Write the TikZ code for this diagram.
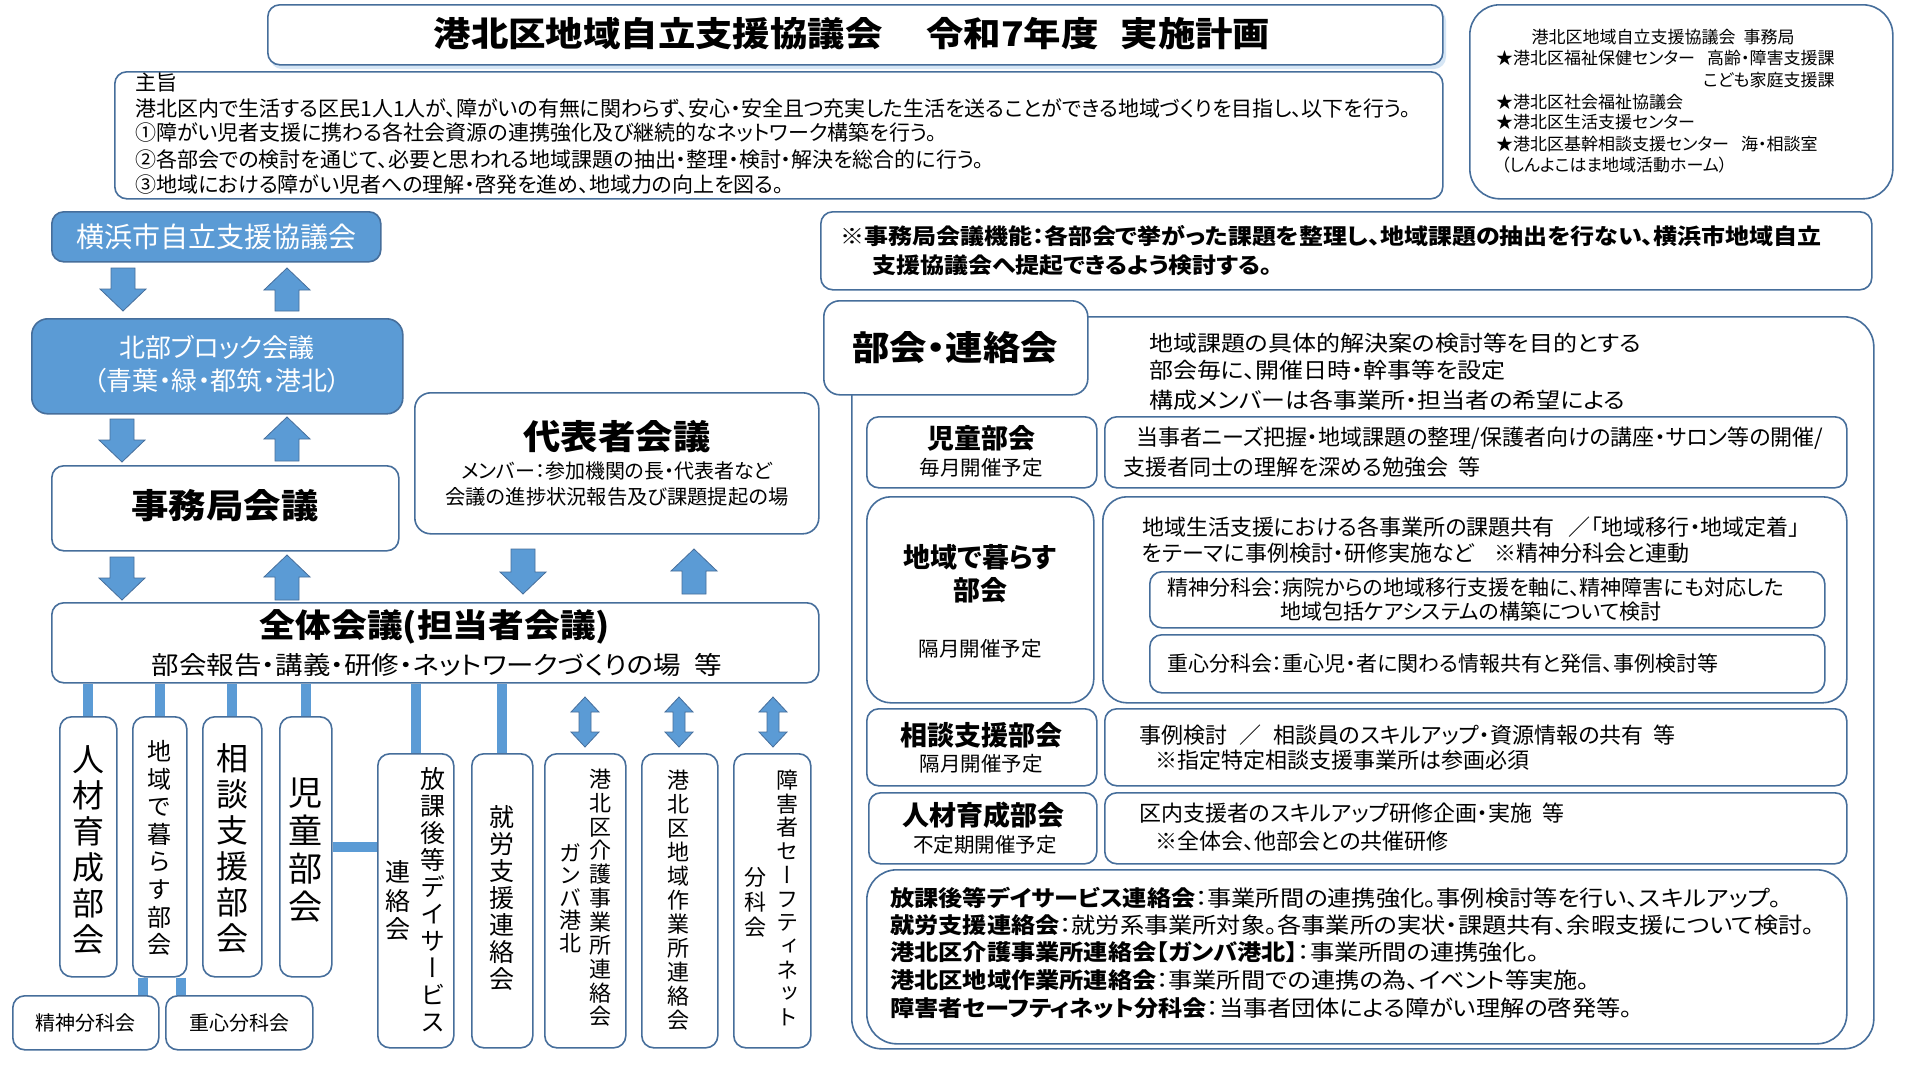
\documentclass[tikz,border=0pt]{standalone}
\usepackage{fontspec}
\setmainfont{Noto Sans CJK JP}[RawFeature=+palt]
\newfontfamily\jpw{Noto Sans CJK JP}[RawFeature=+palt,FakeStretch=1.1]
\newfontfamily\jpv{Noto Sans CJK JP}[RawFeature=+vert]
\definecolor{bord}{RGB}{70,110,155}
\definecolor{bfill}{RGB}{91,155,213}
\newcommand\fs[1]{\fontsize{#1}{#1}\selectfont}
\newcommand\fsl[2]{\fontsize{#1}{#2}\selectfont}
\pgfdeclarelayer{bg}
\pgfsetlayers{bg,main}
\newcommand\bx[6][]{\node[box,#1,anchor=north west,minimum width={#4-#2},minimum height={#5-#3}] (#6) at (#2,#3) {};}
\newcommand\tx[5][]{\node[txt,#1] (#2) at (#3,#4) {#5};}
\newcommand\darr[3]{\path[barrow] (#1-12,#2) -- (#1+12,#2) -- (#1+12,#3-22) -- (#1+23,#3-22) -- (#1,#3) -- (#1-23,#3-22) -- (#1-12,#3-22) -- cycle;}
\newcommand\uarr[3]{\path[barrow] (#1-12,#3) -- (#1+12,#3) -- (#1+12,#2+22) -- (#1+23,#2+22) -- (#1,#2) -- (#1-23,#2+22) -- (#1-12,#2+22) -- cycle;}
\newcommand\udarr[3]{\path[barrow] (#1,#2) -- (#1+14,#2+15) -- (#1+6,#2+15) -- (#1+6,#3-15) -- (#1+14,#3-15) -- (#1,#3) -- (#1-14,#3-15) -- (#1-6,#3-15) -- (#1-6,#2+15) -- (#1-14,#2+15) -- cycle;}
\begin{document}
\begin{tikzpicture}[x=1pt,y=-1pt,
 box/.style={draw=bord,line width=1.6pt,rounded corners=12pt,fill=white,inner sep=0pt},
 bbox/.style={box,fill=bfill},
 conn/.style={draw=bfill,line width=10pt},
 barrow/.style={fill=bfill,draw=bord,line width=0.8pt,line join=miter},
 txt/.style={inner sep=0pt,text=black},
 wtxt/.style={inner sep=0pt,text=white},
 vt/.style={inner sep=0pt,align=center,text=black}]
\useasboundingbox (0,0) rectangle (1920,1080);
\begin{pgfonlayer}{bg}
\fill[white] (0,0) rectangle (1920,1080);
\end{pgfonlayer}

% ---------- top ----------
\fill[bfill!25,rounded corners=12pt] (270,9) rectangle (1446,69);
\bx{267}{4}{1442}{64}{titleB}
\tx[font=\jpw\bfseries\fs{34}]{titleT}{852}{34}{港北区地域自立支援協議会\hspace{44pt}令和7年度\hspace{22pt}実施計画}

\bx[rounded corners=30pt]{1469}{4}{1892}{198}{officeB}
\tx[font=\fs{17}]{of1}{1663}{37}{港北区地域自立支援協議会\hspace{8pt}事務局}
\tx[font=\fs{17},anchor=west]{of2}{1496}{58}{★港北区福祉保健センター\hspace{12pt}高齢・障害支援課}
\node[txt,font=\fs{17},anchor=east] (of3) at (of2.east |- 0,80) {こども家庭支援課};
\tx[font=\fs{17},anchor=west]{of4}{1496}{102}{★港北区社会福祉協議会}
\tx[font=\fs{17},anchor=west]{of5}{1496}{122}{★港北区生活支援センター}
\tx[font=\fs{17},anchor=west]{of6}{1496}{144}{★港北区基幹相談支援センター\hspace{12pt}海・相談室}
\tx[font=\fs{17},anchor=west]{of7}{1501}{165}{（しんよこはま地域活動ホーム）}

\bx{114}{71}{1442}{198}{shushiB}
\tx[font=\fs{21},anchor=west]{sh0}{135}{83}{主旨}
\tx[font=\fs{21},anchor=west]{sh1}{135}{108}{港北区内で生活する区民1人1人が、障がいの有無に関わらず、安心・安全且つ充実した生活を送ることができる地域づくりを目指し、以下を行う。}
\tx[font=\fs{21},anchor=west]{sh2}{135}{133}{①障がい児者支援に携わる各社会資源の連携強化及び継続的なネットワーク構築を行う。}
\tx[font=\fs{21},anchor=west]{sh3}{135}{159}{②各部会での検討を通じて、必要と思われる地域課題の抽出・整理・検討・解決を総合的に行う。}
\tx[font=\fs{21},anchor=west]{sh4}{135}{185}{③地域における障がい児者への理解・啓発を進め、地域力の向上を図る。}

% ---------- left column ----------
\bx[bbox]{51}{211}{380}{261}{yokoB}
\node[wtxt,font=\fs{28}] (yokoT) at (yokoB.center) {横浜市自立支援協議会};
\darr{123}{268}{311}
\uarr{287}{268}{311}

\bx[bbox,rounded corners=16pt]{31}{318}{402}{413}{hokuB}
\tx[wtxt,font=\fs{26}]{hokuT1}{217}{347}{北部ブロック会議}
\tx[wtxt,font=\fs{26}]{hokuT2}{217}{381}{（青葉・緑・都筑・港北）}
\darr{122}{419}{462}
\uarr{287}{417}{461}

\bx{51}{465}{398}{550}{jimuB}
\tx[font=\jpw\bfseries\fs{34}]{jimuT}{225}{506}{事務局会議}
\darr{122}{557}{600}
\uarr{287}{555}{600}

\bx[rounded corners=16pt]{414}{392}{818}{533}{daiB}
\tx[font=\jpw\bfseries\fs{34}]{daiT}{617}{437}{代表者会議}
\tx[font=\fs{20}]{daiT2}{617}{471}{メンバー：参加機関の長・代表者など}
\tx[font=\fs{20.3}]{daiT3}{617}{497}{会議の進捗状況報告及び課題提起の場}
\darr{523}{549}{594}
\uarr{694}{549}{594}

\bx{51}{602}{818}{682}{zenB}
\tx[font=\jpw\bfseries\fs{32.5}]{zenT}{435}{627}{全体会議(担当者会議)}
\tx[font=\jpw\fs{25}]{zenT2}{437}{665}{部会報告・講義・研修・ネットワークづくりの場\hspace{14pt}等}

% vertical boxes
\bx{59}{716}{116}{976}{jinzaiV}
\bx{132}{716}{186}{976}{chiikiV}
\bx{202}{716}{261}{976}{sodanV}
\bx{279}{716}{331}{976}{jidoV}
\bx{377}{753}{453}{1047}{houkaV}
\bx{471}{753}{532}{1047}{shuroV}
\bx{544}{753}{625}{1047}{kaigoV}
\bx{641}{753}{717}{1047}{sagyoV}
\bx{733}{753}{810}{1047}{safeV}
\bx{12}{995}{158}{1049}{seishinB}
\bx{165}{995}{312}{1049}{jushinB}
\node[txt,font=\fs{20}] (seishinT) at (seishinB.center) {精神分科会};
\node[txt,font=\fs{20}] (jushinT) at (jushinB.center) {重心分科会};

\node[vt,font=\jpv\fsl{32}{36}] (v1) at (88,850) {人\\材\\育\\成\\部\\会};
\node[vt,font=\jpv\fsl{24}{27.6}] (v2) at (159,848) {地\\域\\で\\暮\\ら\\す\\部\\会};
\node[vt,font=\jpv\fsl{32}{36}] (v3) at (232,848) {相\\談\\支\\援\\部\\会};
\node[vt,font=\jpv\fsl{34}{38}] (v4) at (305,850) {児\\童\\部\\会};
\node[vt,font=\jpv\fsl{25}{27}] (v5a) at (433,900) {放\\課\\後\\等\\デ\\イ\\サ\\ー\\ビ\\ス};
\node[vt,font=\jpv\fsl{25}{28.5}] (v5b) at (398,901) {連\\絡\\会};
\node[vt,font=\jpv\fsl{25}{27}] (v6) at (502,898) {就\\労\\支\\援\\連\\絡\\会};
\node[vt,font=\jpv\fsl{22}{23.7}] (v7a) at (600,898) {港\\北\\区\\介\\護\\事\\業\\所\\連\\絡\\会};
\node[vt,font=\jpv\fsl{22}{22.5}] (v7b) at (570,898) {ガ\\ン\\バ\\港\\北};
\node[vt,font=\jpv\fsl{22}{24}] (v8) at (678,900) {港\\北\\区\\地\\域\\作\\業\\所\\連\\絡\\会};
\node[vt,font=\jpv\fsl{22}{23.7}] (v9a) at (787,898) {障\\害\\者\\セ\\ー\\フ\\テ\\ィ\\ネ\\ッ\\ト};
\node[vt,font=\jpv\fsl{22}{25}] (v9b) at (755,902) {分\\科\\会};

\begin{pgfonlayer}{bg}
\draw[conn] (jinzaiV.north) -- (jinzaiV.north |- zenB.south);
\draw[conn] (chiikiV.north) -- (chiikiV.north |- zenB.south);
\draw[conn] (sodanV.north) -- (sodanV.north |- zenB.south);
\draw[conn] (jidoV.north) -- (jidoV.north |- zenB.south);
\draw[conn] (houkaV.north) -- (houkaV.north |- zenB.south);
\draw[conn] (shuroV.north) -- (shuroV.north |- zenB.south);
\draw[conn] (jidoV.east) -- (houkaV.west |- jidoV.east);
\draw[conn] ([xshift=-17pt]chiikiV.south) -- ([xshift=-17pt]chiikiV.south |- seishinB.north);
\draw[conn] ([xshift=21pt]chiikiV.south) -- ([xshift=21pt]chiikiV.south |- jushinB.north);
\end{pgfonlayer}
\udarr{585}{697}{747}
\udarr{679}{697}{747}
\udarr{773}{697}{747}

% ---------- right side ----------
\bx{820}{211}{1871}{289}{noteB}
\tx[font=\jpw\bfseries\fs{21.8},anchor=west]{noteT1}{840}{236}{※事務局会議機能：各部会で挙がった課題を整理し、地域課題の抽出を行ない、横浜市地域自立}
\tx[font=\jpw\bfseries\fs{21.8},anchor=west]{noteT2}{872}{265}{支援協議会へ提起できるよう検討する。}

\bx[rounded corners=30pt]{851}{316}{1873}{1048}{bukaiOuter}
\bx[rounded corners=16pt]{823}{300}{1087}{394}{bukaiHead}
\tx[font=\jpw\bfseries\fs{34}]{bukaiT}{955}{348}{部会・連絡会}
\tx[font=\jpw\fs{21.8},anchor=west]{bd1}{1149}{343}{地域課題の具体的解決案の検討等を目的とする}
\tx[font=\jpw\fs{21.8},anchor=west]{bd2}{1149}{370}{部会毎に、開催日時・幹事等を設定}
\tx[font=\jpw\fs{21.8},anchor=west]{bd3}{1149}{400}{構成メンバーは各事業所・担当者の希望による}

\bx{866}{416}{1096}{487}{jidoL}
\bx{1104}{416}{1846}{487}{jidoR}
\tx[font=\bfseries\fs{27}]{jidoT}{981}{438}{児童部会}
\tx[font=\fs{20.5}]{jidoS}{981}{468}{毎月開催予定}
\tx[font=\fs{22},anchor=west]{jidoD1}{1136}{438}{当事者ニーズ把握・地域課題の整理/保護者向けの講座・サロン等の開催/}
\tx[font=\fs{22},anchor=west]{jidoD2}{1123}{467}{支援者同士の理解を深める勉強会\hspace{10pt}等}

\bx[rounded corners=24pt]{866}{496}{1093}{702}{chiikiL}
\bx[rounded corners=24pt]{1102}{496}{1846}{702}{chiikiR}
\tx[font=\bfseries\fs{27}]{chiikiT1}{980}{557}{地域で暮らす}
\tx[font=\bfseries\fs{27}]{chiikiT2}{980}{590}{部会}
\tx[font=\fs{20.5}]{chiikiS}{980}{649}{隔月開催予定}
\tx[font=\fs{22},anchor=west]{chiikiD1}{1142}{527}{地域生活支援における各事業所の課題共有\hspace{14pt}／「地域移行・地域定着」}
\tx[font=\fs{22},anchor=west]{chiikiD2}{1142}{553}{をテーマに事例検討・研修実施など\hspace{20pt}※精神分科会と連動}
\bx{1149}{571}{1824}{627}{seishinR}
\bx{1149}{634}{1824}{692}{jushinR}
\tx[font=\fs{21},anchor=west]{seishinD1}{1167}{588}{精神分科会：病院からの地域移行支援を軸に、精神障害にも対応した}
\tx[font=\fs{21},anchor=west]{seishinD2}{1280}{612}{地域包括ケアシステムの構築について検討}
\tx[font=\fs{21},anchor=west]{jushinD}{1167}{664}{重心分科会：重心児・者に関わる情報共有と発信、事例検討等}

\bx{866}{708}{1096}{785}{sodanL}
\bx{1104}{708}{1846}{785}{sodanR}
\tx[font=\bfseries\fs{27}]{sodanT}{981}{735}{相談支援部会}
\tx[font=\fs{20.5}]{sodanS}{981}{764}{隔月開催予定}
\tx[font=\fs{22},anchor=west]{sodanD1}{1139}{735}{事例検討\hspace{12pt}／\hspace{12pt}相談員のスキルアップ・資源情報の共有\hspace{10pt}等}
\tx[font=\fs{22},anchor=west]{sodanD2}{1155}{760}{※指定特定相談支援事業所は参画必須}

\bx{868}{792}{1096}{863}{jinzaiL}
\bx{1104}{792}{1846}{863}{jinzaiR}
\tx[font=\bfseries\fs{27}]{jinzaiT}{983}{815}{人材育成部会}
\tx[font=\fs{20.5}]{jinzaiS}{985}{845}{不定期開催予定}
\tx[font=\fs{22},anchor=west]{jinzaiD1}{1139}{813}{区内支援者のスキルアップ研修企画・実施\hspace{10pt}等}
\tx[font=\fs{22},anchor=west]{jinzaiD2}{1155}{841}{※全体会、他部会との共催研修}

\bx[rounded corners=30pt]{866}{869}{1846}{1043}{renB}
\tx[font=\jpw\fs{22},anchor=west]{ren1}{890}{898}{\textbf{放課後等デイサービス連絡会}：事業所間の連携強化。事例検討等を行い、スキルアップ。}
\tx[font=\jpw\fs{22},anchor=west]{ren2}{890}{925}{\textbf{就労支援連絡会}：就労系事業所対象。各事業所の実状・課題共有、余暇支援について検討。}
\tx[font=\jpw\fs{22},anchor=west]{ren3}{890}{952}{\textbf{港北区介護事業所連絡会【ガンバ港北】}：事業所間の連携強化。}
\tx[font=\jpw\fs{22},anchor=west]{ren4}{890}{980}{\textbf{港北区地域作業所連絡会}：事業所間での連携の為、イベント等実施。}
\tx[font=\jpw\fs{22},anchor=west]{ren5}{890}{1008}{\textbf{障害者セーフティネット分科会}：当事者団体による障がい理解の啓発等。}
\end{tikzpicture}
\end{document}
